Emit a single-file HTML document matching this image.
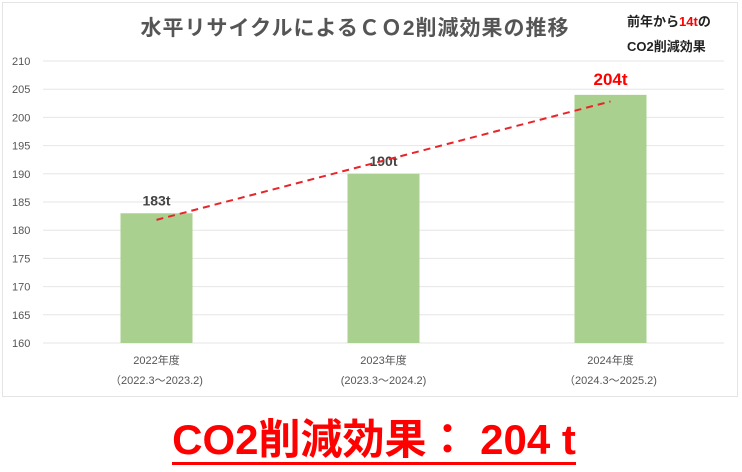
<!DOCTYPE html>
<html><head><meta charset="utf-8"><style>
body{margin:0;width:742px;height:472px;background:#fff;overflow:hidden;font-family:"Liberation Sans","Noto Sans CJK JP",sans-serif;}
#panel{position:absolute;left:2px;top:2px;width:736px;height:395px;border:1px solid #e4e4e4;box-sizing:border-box;}
#title{position:absolute;left:0;width:710px;top:12px;text-align:center;font-size:21px;font-weight:bold;color:#555;letter-spacing:1px;}
#note{position:absolute;left:627px;top:9px;font-size:13px;font-weight:bold;color:#222;line-height:25px;}
#bottom{position:absolute;left:0;width:748px;top:416px;text-align:center;font-size:42px;font-weight:bold;color:#f00;}
#bottom span{border-bottom:3px solid #f00;line-height:44px;display:inline-block;}
</style></head><body>
<div id="panel"></div>
<div id="title">水平リサイクルによるＣＯ2削減効果の推移</div>
<div id="note">前年から<span style="color:#f00">14t</span>の<br>CO2削減効果</div>
<svg id="chart" width="742" height="472" style="position:absolute;left:0;top:0"></svg>
<div id="bottom"><span>CO2削減効果： 204 t</span></div>
<script>
const categories=["2022年度","2023年度","2024年度"];
const periods=["（2022.3～2023.2)","(2023.3～2024.2)","（2024.3～2025.2)"];
const values=[183,190,204];
const valueLabels=["183t","190t","204t"];
const yTicks=[160,165,170,175,180,185,190,195,200,205,210];
const svg=document.getElementById('chart');
const NS='http://www.w3.org/2000/svg';
const x0=43,x1=724,yMin=160,yMax=210,yTop=61,yBot=343;
const y=v=>yBot-(v-yMin)/(yMax-yMin)*(yBot-yTop);
const band=(x1-x0)/categories.length;
const xc=i=>x0+band*(i+0.5);
function mk(t,a){const e=document.createElementNS(NS,t);for(const k in a)e.setAttribute(k,a[k]);svg.appendChild(e);return e;}
yTicks.forEach(v=>{
 const g=mk('line',{x1:x0,x2:x1,y1:y(v),y2:y(v),stroke:'#e6e6e6','stroke-width':1});
 
 
 const t=mk('text',{x:12,y:y(v)+4,'font-size':11,fill:'#555'});t.textContent=v;
 
 
});
const bw=72;
values.forEach((v,i)=>{
 const r=mk('rect',{x:xc(i)-bw/2,y:y(v),width:bw,height:yBot-y(v),fill:'#a9d08e'});
 
 
 const last=i===values.length-1;
 const t=mk('text',{x:xc(i),y:y(v)-(last?10:8),'text-anchor':'middle','font-size':last?17:14,'font-weight':'bold',fill:last?'#f00':'#444'});
 t.textContent=valueLabels[i];
 
 
 const c=mk('text',{x:xc(i),y:364,'text-anchor':'middle','font-size':11,fill:'#555'});c.textContent=categories[i];
 
 
 const p=mk('text',{x:xc(i),y:384,'text-anchor':'middle','font-size':11,fill:'#555'});p.textContent=periods[i];
 
 
});
const n=values.length,mx=(n-1)/2,my=values.reduce((a,b)=>a+b,0)/n;
let sxy=0,sxx=0;values.forEach((v,i)=>{sxy+=(i-mx)*(v-my);sxx+=(i-mx)*(i-mx);});
const sl=sxy/sxx;
const tl=mk('line',{x1:xc(0),y1:y(my+sl*(0-mx)),x2:xc(n-1),y2:y(my+sl*(n-1-mx)),stroke:'#e8252a','stroke-width':2,'stroke-dasharray':'7,5'});


</script>
</body></html>
